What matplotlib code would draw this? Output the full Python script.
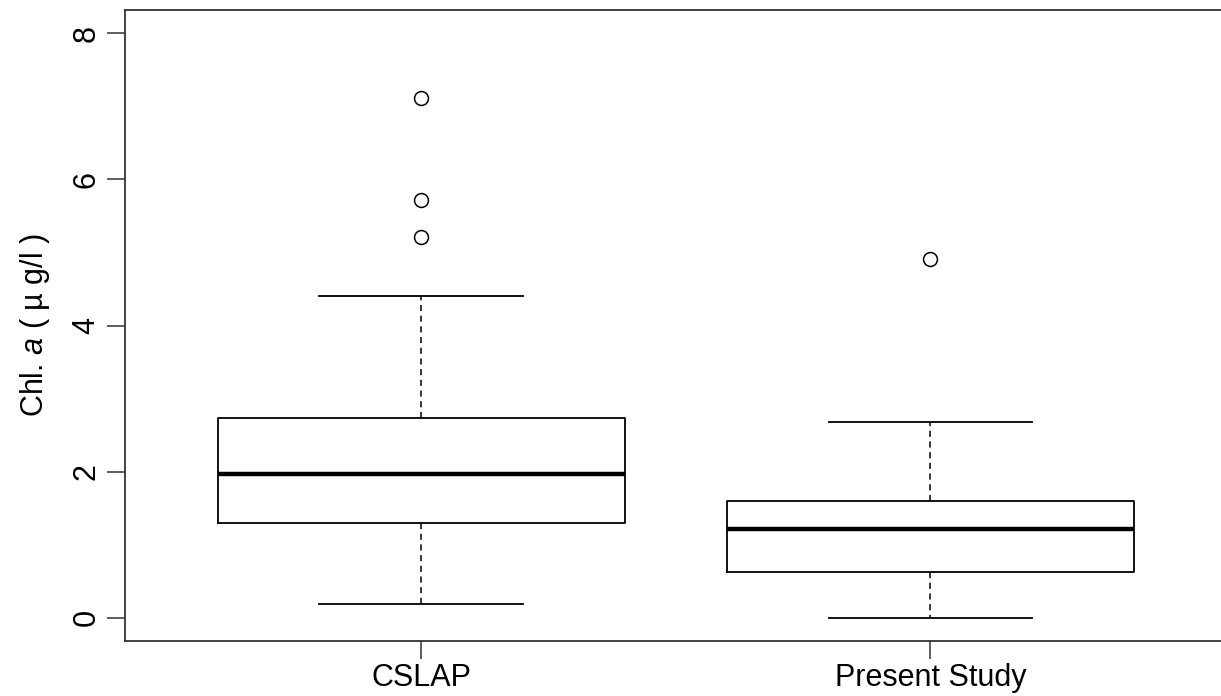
import numpy as np
import matplotlib.pyplot as plt

plt.rcParams['font.family'] = ['Liberation Sans', 'DejaVu Sans']
plt.rcParams['mathtext.fontset'] = 'custom'
plt.rcParams['mathtext.it'] = 'Liberation Sans:italic'
plt.rcParams['mathtext.rm'] = 'Liberation Sans'

# summary statistics for each group
groups = ['CSLAP', 'Present Study']
whis_lo = [0.18, 0.0]
q1 = [1.30, 0.63]
median = [1.97, 1.22]
q3 = [2.74, 1.60]
whis_hi = [4.40, 2.68]
outliers = [[5.21, 5.72, 7.11], [4.91]]

stats = []
for i, g in enumerate(groups):
    stats.append(dict(label=g, whislo=whis_lo[i], q1=q1[i], med=median[i],
                      q3=q3[i], whishi=whis_hi[i], fliers=outliers[i]))

fig = plt.figure(figsize=(12.21, 6.96), dpi=100)
ax = fig.add_axes([125 / 1221, 55 / 696, 1096 / 1221, 631 / 696])

ax.bxp(stats, positions=[1, 2], widths=0.8, showcaps=True,
       boxprops=dict(color='black', linewidth=1.3),
       medianprops=dict(color='black', linewidth=3.2),
       whiskerprops=dict(color='black', linewidth=1.1, linestyle=(0, (4, 3))),
       capprops=dict(color='black', linewidth=1.3),
       capwidths=0.4,
       flierprops=dict(marker='o', markersize=10, markerfacecolor='none',
                       markeredgecolor='black', markeredgewidth=1.1))

ax.set_xlim(0.418, 2.571)
ax.set_ylim(-0.32, 8.32)
ax.set_yticks([0, 2, 4, 6, 8])
ax.set_yticklabels(['0', '2', '4', '6', '8'], rotation=90, va='center')
ax.set_xticks([1, 2])
ax.set_xticklabels(groups)
ax.tick_params(axis='both', labelsize=22, length=13, width=1.1, color='#333333')
ax.tick_params(axis='x', pad=3)
ax.tick_params(axis='y', pad=4)

ax.spines['right'].set_visible(False)
for s in ['left', 'top', 'bottom']:
    ax.spines[s].set_linewidth(1.3)
    ax.spines[s].set_color('#333333')

ax.set_ylabel(r'Chl. $a$ ( µ g/l )', fontsize=22, labelpad=14)

fig.savefig('out.png', dpi=100)
